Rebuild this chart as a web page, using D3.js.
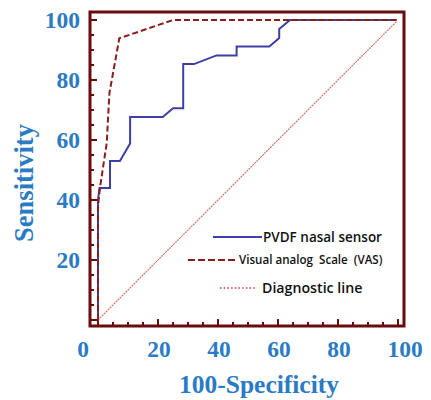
<!DOCTYPE html>
<html><head><meta charset="utf-8">
<script src="https://cdn.jsdelivr.net/npm/d3@7"></script>
<style>body{margin:0;background:#fff;}svg{display:block;}</style>
</head><body>
<script>
// Data (100-Specificity, Sensitivity)
const pvdfX = [0, 0, 0.5, 4, 4, 7.3, 10.7, 10.7, 21.6, 25, 28.4, 28.4, 32, 39.5, 46.2, 46.2, 57.1, 60.4, 60.4, 64, 99.5];
const pvdfY = [0, 40, 44, 44, 53, 53, 58.8, 67.7, 67.7, 70.6, 70.6, 85.3, 85.3, 88.2, 88.2, 91.2, 91.2, 94, 97, 100, 100];
const vasX = [0, 0, 0.7, 2.9, 3.8, 7.1, 25, 99.5];
const vasY = [0, 38, 44.4, 58.9, 75.6, 93.9, 100, 100];
const diagX = [0, 99.5];
const diagY = [0, 99.5];
const xTicks = [0, 20, 40, 60, 80, 100];
const yTicks = [20, 40, 60, 80, 100];
const seriesNames = ["PVDF nasal sensor", "Visual analog  Scale  (VAS)", "Diagnostic line"];

const W = 431, H = 400;
const svg = d3.select("body").append("svg").attr("width", W).attr("height", H);

const x = d3.scaleLinear().domain([0, 100]).range([98, 398]);
const y = d3.scaleLinear().domain([0, 100]).range([320, 20]);
const frameL = 90, frameR = 404, frameT = 12, frameB = 326;

const maroon = "#6a0c0c";
const blueTxt = "#2b7bc4";

// Frame
svg.append("rect").attr("x", frameL).attr("y", frameT)
  .attr("width", frameR - frameL).attr("height", frameB - frameT)
  .attr("fill", "none").attr("stroke", maroon).attr("stroke-width", 3);

// Minor + major ticks
const minorVals = d3.range(0, 101, 5);
const gTicks = svg.append("g").attr("stroke", maroon).attr("stroke-width", 2);
minorVals.forEach(v => {
  const major = v % 20 === 0;
  const len = major ? 7 : 4;
  gTicks.append("line").attr("x1", frameL).attr("x2", frameL + len)
    .attr("y1", y(v)).attr("y2", y(v));
  gTicks.append("line").attr("y1", frameB).attr("y2", frameB - len)
    .attr("x1", x(v)).attr("x2", x(v));
});

// Tick labels
const tickFont = "'Liberation Serif', 'Times New Roman', serif";
svg.append("g").selectAll("text").data(yTicks).join("text")
  .attr("x", 80).attr("y", d => y(d)).attr("dy", "0.36em")
  .attr("text-anchor", "end").attr("font-family", tickFont).attr("font-weight", "bold")
  .attr("font-size", 23.5).attr("fill", blueTxt).text(d => d);

const xOff = v => v === 0 ? -15 : (v === 100 ? 7 : 1);
svg.append("g").selectAll("text").data(xTicks).join("text")
  .attr("x", d => x(d) + xOff(d)).attr("y", 357)
  .attr("text-anchor", "middle").attr("font-family", tickFont).attr("font-weight", "bold")
  .attr("font-size", 23.5).attr("fill", blueTxt).text(d => d);

// Axis titles
svg.append("text").attr("x", 259).attr("y", 393).attr("text-anchor", "middle")
  .attr("font-family", tickFont).attr("font-weight", "bold").attr("font-size", 25.5)
  .attr("fill", blueTxt).text("100-Specificity");
svg.append("text").attr("transform", "translate(33,183) rotate(-90)")
  .attr("text-anchor", "middle")
  .attr("font-family", tickFont).attr("font-weight", "bold").attr("font-size", 26.5)
  .attr("fill", blueTxt).text("Sensitivity");

const line = d3.line().x(d => x(d[0])).y(d => y(d[1]));

// Diagonal
svg.append("path").datum(d3.zip(diagX, diagY)).attr("d", line)
  .attr("fill", "none").attr("stroke", "#d27470").attr("stroke-width", 1.2)
  .attr("stroke-dasharray", "2,0.8");

// PVDF
svg.append("path").datum(d3.zip(pvdfX, pvdfY)).attr("d", line)
  .attr("fill", "none").attr("stroke", "#3c3fa6").attr("stroke-width", 2);

// VAS
svg.append("path").datum(d3.zip(vasX, vasY)).attr("d", line)
  .attr("fill", "none").attr("stroke", "#8a1c1c").attr("stroke-width", 2)
  .attr("stroke-dasharray", "6,3");

// Legend
const legFont = "'Open Sans', 'Liberation Sans', sans-serif";
const leg = [
  {x1: 213, x2: 262, y: 237, color: "#3c3fa6", dash: null, w: 2, tx: 263, fs: 13.5},
  {x1: 188, x2: 238, y: 260, color: "#8a1c1c", dash: "7,3", w: 2, tx: 239, fs: 11.6},
  {x1: 220, x2: 257, y: 288, color: "#d03a34", dash: "1.5,2.2", w: 1.5, tx: 262, fs: 14.2}
];
leg.forEach((l, i) => {
  const ln = svg.append("line").attr("x1", l.x1).attr("x2", l.x2).attr("y1", l.y).attr("y2", l.y)
    .attr("stroke", l.color).attr("stroke-width", l.w);
  if (l.dash) ln.attr("stroke-dasharray", l.dash);
  svg.append("text").attr("x", l.tx).attr("y", l.y).attr("dy", "0.35em")
    .style("white-space", "pre")
    .attr("font-family", legFont).attr("font-weight", 600).attr("font-size", l.fs)
    .attr("fill", "#111").text(seriesNames[i]);
});
</script>
</body></html>
